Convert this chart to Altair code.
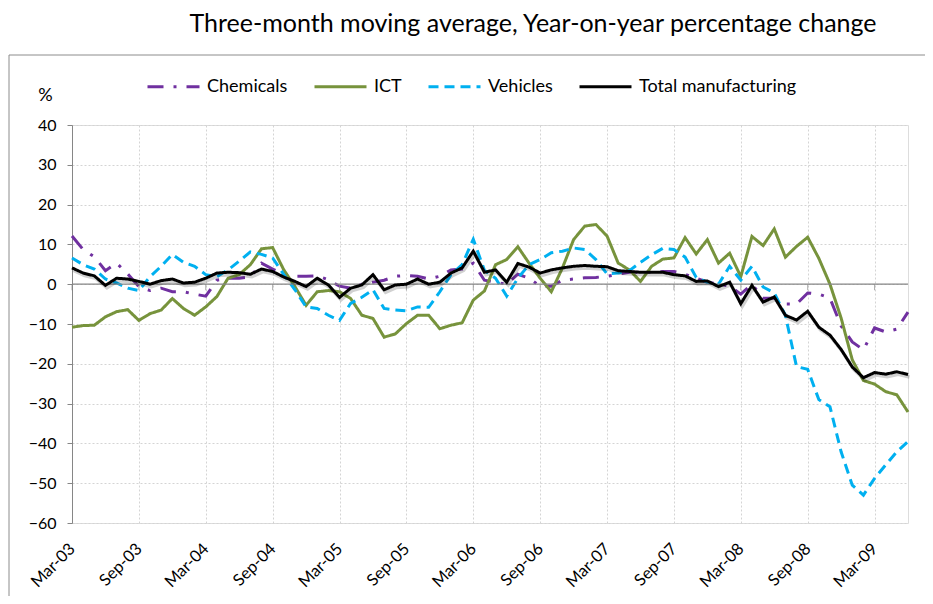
import altair as alt
import pandas as pd

# ---------------- data ----------------
months = list(pd.period_range("2003-03", "2009-06", freq="M").strftime("%b-%y"))
tick_labels = months[::6]

series_names = ["Chemicals", "ICT", "Vehicles", "Total manufacturing"]
series_colors = ["#7030A0", "#77933C", "#00B0F0", "#000000"]
series_dashes = [[16, 10, 3, 10], [1, 0], [10, 6], [1, 0]]

chemicals = [12.1, 8.7, 6.9, 3.4, 5.3, 2.6, -0.6, -1.6, -1.0, -1.9,
             -1.9, -2.5, -3.0, 1.0, 1.5, 1.5, 1.8, 5.3, 3.8, 2.5,
             2.0, 2.0, 2.1, 1.1, -0.5, -1.0, 0.0, 0.5, 1.0, 2.0,
             2.2, 2.0, 1.3, 2.0, 3.6, 3.8, 5.3, 1.0, 0.5, 0.0,
             2.5, 1.5, -0.5, -0.5, 1.0, 1.3, 1.6, 1.7, 2.0, 2.5,
             3.0, 3.0, 3.0, 3.2, 3.2, 2.5, 1.5, 0.5, 0.0, -0.5,
             -2.5, 0.0, -3.5, -3.5, -5.0, -5.0, -2.2, -2.5, -3.5, -10.5,
             -14.5, -16.5, -11.0, -12.0, -11.3, -7.0]

ict = [-10.8, -10.4, -10.3, -8.2, -6.9, -6.4, -9.1, -7.4, -6.5, -3.6,
       -6.1, -7.8, -5.7, -3.1, 1.5, 2.4, 4.9, 8.9, 9.2, 3.6,
       -0.6, -5.3, -1.9, -1.6, -1.9, -3.6, -7.8, -8.6, -13.3, -12.5,
       -9.9, -7.8, -7.8, -11.2, -10.3, -9.7, -4.0, -1.7, 4.9, 6.2,
       9.4, 5.3, 1.5, -1.9, 4.1, 11.2, 14.6, 15.0, 12.1, 5.3,
       3.6, 0.7, 4.5, 6.3, 6.6, 11.7, 7.6, 11.2, 5.3, 7.8,
       1.9, 12.0, 9.7, 13.9, 6.8, 9.5, 11.8, 6.5, 0.0, -8.5,
       -19.0, -24.2, -25.1, -27.0, -27.8, -32.1]

vehicles = [6.6, 4.9, 3.8, 1.3, 0.3, -1.0, -1.6, 1.9, 4.5, 7.5,
            5.5, 4.5, 2.4, 1.9, 3.6, 5.8, 8.1, 7.5, 6.6, 2.4,
            -1.4, -5.7, -6.1, -7.8, -9.1, -4.8, -3.3, -1.4, -6.1, -6.5,
            -6.7, -5.7, -5.8, -1.9, 2.4, 4.9, 11.3, 3.5, 1.5, -3.0,
            1.5, 4.9, 6.2, 7.9, 8.3, 9.1, 8.7, 6.2, 2.6, 2.8,
            3.4, 5.5, 7.4, 9.0, 8.7, 6.8, 1.7, 0.5, 0.0, 4.5,
            1.0, 4.5, -0.7, -2.2, -7.8, -20.7, -21.4, -29.0, -30.8, -42.1,
            -50.5, -53.0, -48.8, -45.4, -42.1, -39.5]

total = [4.1, 2.8, 2.1, -0.3, 1.5, 1.3, 0.7, 0.0, 0.9, 1.3,
         0.3, 0.5, 1.5, 2.8, 3.0, 2.9, 2.5, 3.8, 3.2, 1.8,
         0.7, -0.6, 1.5, -0.2, -3.3, -1.0, -0.2, 2.4, -1.4, -0.2,
         0.0, 1.3, 0.0, 0.5, 2.8, 4.1, 8.3, 3.0, 3.6, 0.5,
         5.2, 4.3, 2.8, 3.6, 4.1, 4.5, 4.7, 4.5, 4.4, 3.4,
         3.2, 3.0, 3.0, 3.0, 2.4, 2.1, 0.7, 0.8, -0.6, 0.5,
         -4.9, -0.3, -4.5, -3.2, -7.8, -9.0, -6.8, -10.8, -12.8, -16.4,
         -20.8, -23.5, -22.2, -22.6, -22.0, -22.7]

y_ticks = list(range(-60, 41, 10))
chart_title = "Three-month moving average, Year-on-year percentage change"

# ---------------- tables ----------------
rows = []
for name, vals in zip(series_names, [chemicals, ict, vehicles, total]):
    for i, (m, v) in enumerate(zip(months, vals)):
        rows.append({"month": m, "idx": i, "series": name, "value": v})
df = pd.DataFrame(rows)
df_others = df[df["series"] != "Total manufacturing"]
df_total = df[df["series"] == "Total manufacturing"]

FONT = "Lato"
W, H = 836, 398
GRID = "#D4D4D4"
AXIS_GRAY = "#868686"

x_scale = alt.Scale(type="point", padding=0, domain=months)
y_scale = alt.Scale(domain=[-60, 40], nice=False)

x_enc = alt.X(
    "month:O", scale=x_scale,
    axis=alt.Axis(values=tick_labels, labelAngle=-45, labelAlign="right",
                  labelBaseline="middle", labelPadding=23, labelFontSize=16.5,
                  labelFont=FONT, labelColor="#000000", ticks=False, domain=False,
                  grid=True, gridDash=[2, 2], gridColor=GRID, title=None,
                  labelOverlap=False),
)
y_enc = alt.Y(
    "value:Q", scale=y_scale,
    axis=alt.Axis(values=y_ticks, title="%", titleAngle=0, titleX=-27, titleY=-30,
                  titleAlign="center", titleBaseline="middle", titleFontSize=18,
                  titleFontWeight="normal", titleFont=FONT, titleColor="#000000",
                  domainColor=AXIS_GRAY, tickColor=AXIS_GRAY, tickSize=5,
                  labelPadding=11, labelFontSize=16, labelFont=FONT,
                  labelColor="#000000", labelOverlap=False, grid=True,
                  gridDash=[2, 2], gridColor=GRID),
)

legend = alt.Legend(
    title=None, orient="none", direction="horizontal", legendX=74, legendY=-66,
    symbolType="stroke", symbolSize=2704, symbolStrokeWidth=3, labelOffset=6,
    labelFontSize=18, labelFont=FONT, labelColor="#000000", columnPadding=20,
    labelLimit=400,
)
color_enc = alt.Color("series:N",
                      scale=alt.Scale(domain=series_names, range=series_colors),
                      legend=legend)
dash_enc = alt.StrokeDash("series:N",
                          scale=alt.Scale(domain=series_names, range=series_dashes),
                          legend=legend)

lines_others = alt.Chart(df_others).mark_line(strokeWidth=3).encode(
    x=x_enc, y=y_enc, color=color_enc, strokeDash=dash_enc,
    order=alt.Order("idx:Q"), detail="series:N",
)

shadow = alt.Chart(df_total).mark_line(
    strokeWidth=3.5, color="#000000", opacity=0.18, xOffset=1.5, yOffset=2.5
).encode(x=x_enc, y=y_enc, order=alt.Order("idx:Q"))

line_total = alt.Chart(df_total).mark_line(strokeWidth=3).encode(
    x=x_enc, y=y_enc, color=color_enc, strokeDash=dash_enc, order=alt.Order("idx:Q"),
)

zero = alt.Chart(pd.DataFrame({"value": [0]})).mark_rule(
    color=AXIS_GRAY, strokeWidth=1.2
).encode(y=y_enc)

zero_ticks = alt.Chart(pd.DataFrame({"month": tick_labels, "value": [0] * len(tick_labels)})).mark_tick(
    orient="vertical", size=6, thickness=1, color=AXIS_GRAY, yOffset=3
).encode(x=x_enc, y=y_enc)

frame_left = alt.Chart(pd.DataFrame({"a": [0]})).mark_rule(color="#8C8C8C", strokeWidth=1).encode(
    x=alt.value(-63), y=alt.value(-70), y2=alt.value(480))
frame_top = alt.Chart(pd.DataFrame({"a": [0]})).mark_rule(color="#8C8C8C", strokeWidth=1).encode(
    x=alt.value(-63), x2=alt.value(860), y=alt.value(-70))

chart = alt.layer(
    lines_others, zero, zero_ticks, shadow, line_total, frame_left, frame_top
).properties(
    width=W, height=H,
    title=alt.TitleParams(chart_title, anchor="middle", frame="group", dx=43,
                          offset=18, fontSize=25, font=FONT, fontWeight="normal",
                          color="#000000"),
    autosize=alt.AutoSizeParams(type="none"),
    padding={"left": 64, "top": 117, "right": 17, "bottom": 73},
    background="#FFFFFF",
).configure_view(stroke=None).configure(font=FONT)

chart.save("out.html", embed_options={"renderer": "svg", "actions": False})
